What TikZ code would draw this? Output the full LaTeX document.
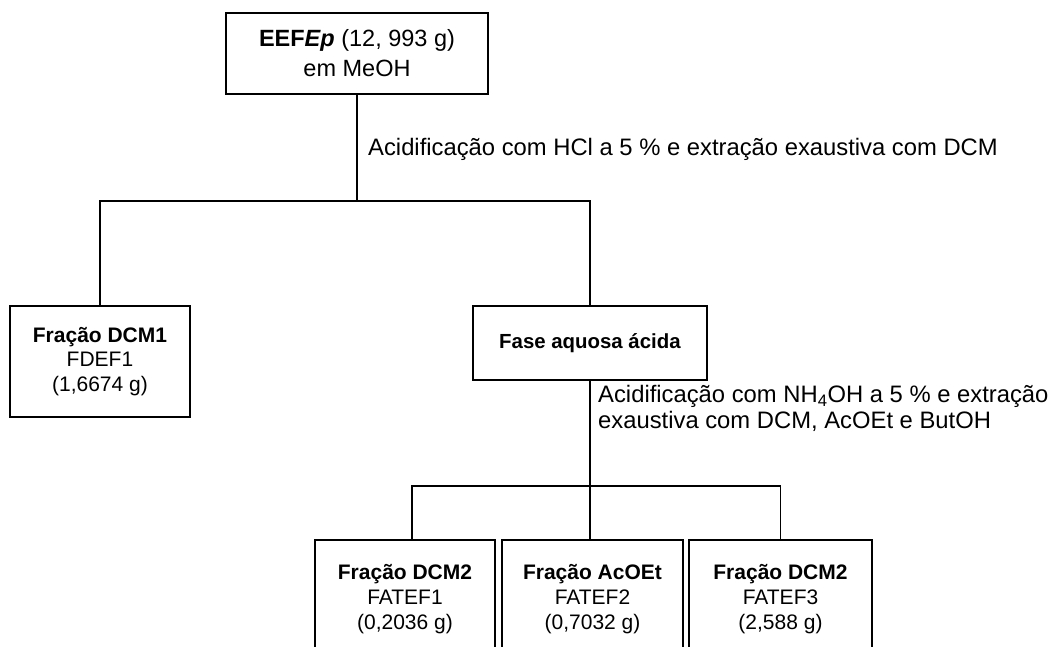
\documentclass[tikz,border=0pt]{standalone}
\usepackage{fontspec}
\setmainfont{Liberation Sans}
\begin{document}
\begin{tikzpicture}[x=1pt,y=-1pt,
  box/.style={draw=black, line width=1.3pt, inner sep=0pt, align=center},
  conn/.style={draw=black, line width=1.3pt},
  lbl/.style={inner sep=0pt, anchor=base west, align=left, font=\fontsize{23.8}{25.5}\selectfont},
  small/.style={font=\fontsize{21}{24.5}\selectfont}]
\useasboundingbox (0,0) rectangle (1056,646);
\clip (0,0) rectangle (1056,646);
% boxes
\node[box, minimum width=262pt, minimum height=81pt, font=\fontsize{23.5}{30}\selectfont] (top) at (357,53.5)
  {\textbf{EEF\textit{Ep}} (12, 993 g)\\em MeOH};
\node[box, small, minimum width=180pt, minimum height=111pt] (left) at (100,361.5)
  {\textbf{Fração DCM1}\\FDEF1\\(1,6674 g)};
\node[box, minimum width=234pt, minimum height=74pt, font=\fontsize{20.4}{24}\selectfont] (fase) at (590,343)
  {\textbf{Fase aquosa ácida}};
\node[box, font=\fontsize{21}{25}\selectfont, minimum width=180pt, minimum height=119pt] (b1) at (405,599.5)
  {\textbf{Fração DCM2}\\FATEF1\\(0,2036 g)};
\node[box, font=\fontsize{21}{25}\selectfont, minimum width=181pt, minimum height=119pt] (b2) at (592.5,599.5)
  {\textbf{Fração AcOEt}\\FATEF2\\(0,7032 g)};
\node[box, font=\fontsize{21}{25}\selectfont, minimum width=183pt, minimum height=119pt] (b3) at (780.5,599.5)
  {\textbf{Fração DCM2}\\FATEF3\\(2,588 g)};
% labels
\node[lbl] (l1) at (368,155) {Acidificação com HCl a 5 \% e extração exaustiva com DCM};
\node[lbl] (l2) at (598,428) {Acidificação com NH\textsubscript{4}OH a 5 \% e extração\\exaustiva com DCM, AcOEt e ButOH};
% connectors
\coordinate (j1) at (357,201);
\coordinate (j2) at (590,486);
\coordinate (d1) at (412,540);
\draw[conn] (top.south) -- (j1);
\draw[conn] (left.north) |- (j1) -| (fase.north);
\draw[conn] (fase.south) -- (j2);
\draw[conn] (d1) |- (j2) -| (b3.north);
\draw[conn] (j2) -- (j2 |- b2.north);
\end{tikzpicture}
\end{document}
